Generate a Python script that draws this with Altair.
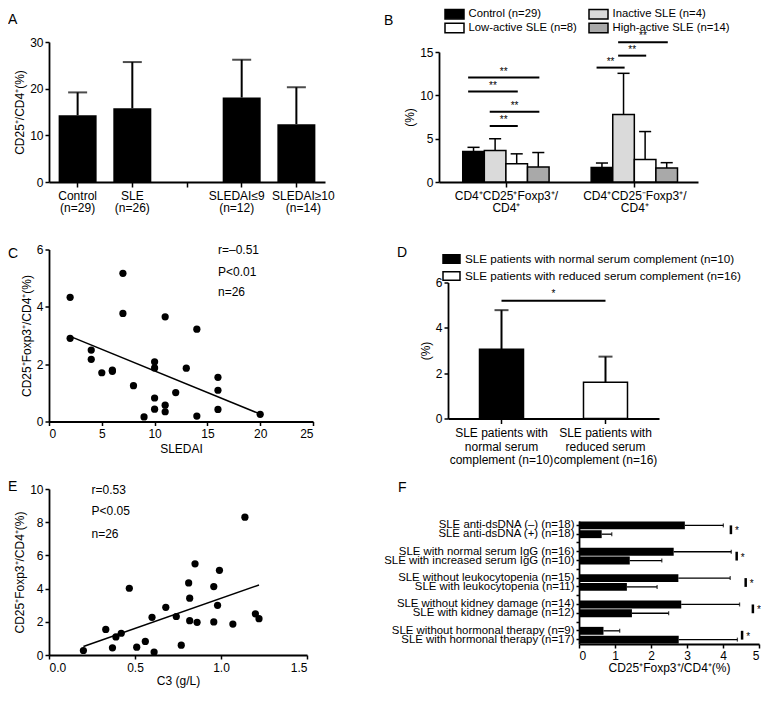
import json
import altair as alt
import pandas as pd

FONT = "Liberation Sans"
RECT_B = "M-1.9,-0.95H1.9V0.95H-1.9Z"
RECT_D = "M-1,-0.5H1V0.5H-1Z"

# ---------------- Panel A data ----------------
a_groups = ["Control\n(n=29)", "SLE\n(n=26)", "SLEDAI≤9\n(n=12)", "SLEDAI≥10\n(n=14)"]
a_mean = [14.3, 15.8, 18.1, 12.4]
a_upper = [19.2, 25.7, 26.2, 20.3]

# ---------------- Panel B data ----------------
b_groups = [["CD4⁺CD25⁺Foxp3⁺/", "CD4⁺"], ["CD4⁺CD25⁻Foxp3⁺/", "CD4⁺"]]
b_series = ["Control (n=29)", "Inactive SLE (n=4)", "Low-active SLE (n=8)", "High-active SLE (n=14)"]
b_fill = ["#000000", "#dadada", "#ffffff", "#a9a9a9"]
b_mean = [[3.51, 3.63, 2.12, 1.74], [1.66, 7.78, 2.61, 1.62]]
b_upper = [[4.00, 4.99, 3.25, 3.40], [2.19, 12.54, 5.82, 2.23]]
b_sig_group = [0, 0, 0, 0, 1, 1, 1]
b_sig_from = [0, 0, 1, 1, 0, 1, 1]
b_sig_to = [3, 2, 3, 2, 1, 2, 3]
b_sig_y = [12.05, 10.43, 8.12, 6.46, 13.2, 14.58, 16.13]

# ---------------- Panel C data ----------------
c_sledai = [2, 2, 4, 4, 5, 6, 6, 7, 7, 8, 9, 10, 10, 10, 10, 11, 11, 11, 12, 13, 14, 14, 16, 16, 16, 20]
c_treg = [4.33, 2.90, 2.49, 2.17, 1.70, 1.79, 1.75, 5.17, 3.77, 1.25, 0.16, 2.08, 1.87, 0.82, 0.43,
          3.65, 0.57, 0.34, 1.01, 1.86, 3.22, 0.19, 1.54, 1.09, 0.42, 0.25]
c_stats = ["r=–0.51", "P<0.01", "n=26"]

# ---------------- Panel D data ----------------
d_groups = ["SLE patients with\nnormal serum\ncomplement (n=10)", "SLE patients with\nreduced serum\ncomplement (n=16)"]
d_legend = ["SLE patients with normal serum complement (n=10)", "SLE patients with reduced serum complement (n=16)"]
d_mean = [3.05, 1.60]
d_upper = [4.78, 2.73]
d_sig_y = 5.19

# ---------------- Panel E data ----------------
e_c3 = [0.200, 0.330, 0.369, 0.389, 0.420, 0.467, 0.510, 0.560, 0.599, 0.611, 0.679, 0.740, 0.769,
        0.812, 0.818, 0.818, 0.861, 0.849, 0.958, 0.958, 0.980, 0.991, 1.069, 1.139, 1.200, 1.221]
e_treg = [0.27, 1.54, 0.43, 1.09, 1.31, 4.02, 0.47, 0.82, 2.27, 0.18, 2.87, 2.32, 0.59,
          4.34, 3.42, 2.07, 1.97, 5.49, 4.12, 1.99, 2.99, 5.10, 1.86, 8.30, 2.48, 2.19]
e_stats = ["r=0.53", "P<0.05", "n=26"]

# ---------------- Panel F data ----------------
f_labels = ["SLE anti-dsDNA (–) (n=18)", "SLE anti-dsDNA (+) (n=18)",
            "SLE with normal serum IgG (n=16)", "SLE with increased serum IgG (n=10)",
            "SLE without leukocytopenia (n=15)", "SLE with leukocytopenia (n=11)",
            "SLE without kidney damage (n=14)", "SLE with kidney damage (n=12)",
            "SLE without hormonal therapy (n=9)", "SLE with hormonal therapy (n=17)"]
f_mean = [2.94, 0.63, 2.63, 1.41, 2.76, 1.33, 2.84, 1.47, 0.68, 2.77]
f_upper = [4.01, 0.91, 4.23, 2.30, 4.20, 2.17, 4.46, 2.49, 1.13, 4.40]
f_sig_x = [4.22, 4.38, 4.63, 4.83, 4.53]


def letter(ch, x, y):
    return alt.Chart(pd.DataFrame({"t": [ch]})).mark_text(
        font=FONT, fontSize=14, align="left", baseline="alphabetic", color="black"
    ).encode(x=alt.value(x), y=alt.value(y), text="t:N")


def notes(df, xf, yf):
    return alt.Chart(df).mark_text(font=FONT, fontSize=12, align="left", baseline="middle",
                                   color="black").encode(x=xf("nx"), y=yf("ny"), text="t:N")


SPLIT = "split(datum.label, '\\n')"

# ================= Panel A =================
dfA = pd.DataFrame({"group": a_groups, "mean": a_mean, "upper": a_upper})
a_slots = [a_groups[0], a_groups[1], " ", a_groups[2], a_groups[3]]
a_label_offset = {"condition": [{"test": "indexof(datum.value, '≥') >= 0", "value": 7},
                                {"test": "indexof(datum.value, '≤') >= 0", "value": -5}],
                  "value": 0}
xA = alt.X("group:N", scale=alt.Scale(domain=a_slots, paddingInner=0.293, paddingOuter=0.17),
           axis=alt.Axis(title=None, labelAngle=0, labelExpr=SPLIT, labelLineHeight=12,
                         labelPadding=3, tickSize=5, labelOffset=a_label_offset))


def yA(f):
    return alt.Y(f"{f}:Q", scale=alt.Scale(domain=[0, 30], nice=False),
                 axis=alt.Axis(values=[0, 10, 20, 30], title="CD25⁺/CD4⁺(%)", labelPadding=2))


pA = alt.layer(
    alt.Chart(dfA).mark_bar(color="black", size=38).encode(x=xA, y=yA("mean")),
    alt.Chart(dfA).mark_rule(color="black", strokeWidth=2).encode(x=xA, y=yA("mean"), y2=alt.Y2("upper")),
    alt.Chart(dfA).mark_tick(color="black", size=19, thickness=2).encode(x=xA, y=yA("upper")),
    letter("A", -41, -18),
).properties(width=276, height=140)

# ================= Panel B =================
B_CENTERS = [3.1, 9.05]
rows = []
for g in range(2):
    for i, s in enumerate(b_series):
        c = B_CENTERS[g] + i - 1.5
        rows.append({"series": s, "mean": b_mean[g][i], "upper": b_upper[g][i],
                     "x0": c - 0.5, "x1": c + 0.5, "xc": c, "cl": c - 0.28, "cr": c + 0.28})
dfB = pd.DataFrame(rows)
srows = []
for g, a, b, y in zip(b_sig_group, b_sig_from, b_sig_to, b_sig_y):
    x0 = B_CENTERS[g] + a - 1.5 - 0.25
    x1 = B_CENTERS[g] + b - 1.5 + 0.05
    srows.append({"sx0": x0, "sx1": x1, "sxm": (x0 + x1) / 2, "sy": y})
dfBs = pd.DataFrame(srows)

b_label_expr = "datum.value < 6 ? %s : %s" % (json.dumps(b_groups[0], ensure_ascii=False),
                                              json.dumps(b_groups[1], ensure_ascii=False))


def xB(f):
    return alt.X(f"{f}:Q", scale=alt.Scale(domain=[0, 12], nice=False, zero=False),
                 axis=alt.Axis(values=B_CENTERS, labelExpr=b_label_expr, title=None,
                               labelLineHeight=12, labelPadding=3, tickSize=5))


def yB(f):
    return alt.Y(f"{f}:Q", scale=alt.Scale(domain=[0, 15], nice=False, range=[140, 10]),
                 axis=alt.Axis(values=[0, 5, 10, 15], title="(%)", labelPadding=2))


legB = alt.Legend(orient="none", legendX=9.5, legendY=-34, columns=2, direction="horizontal", title=None,
                  symbolType=RECT_B, symbolSize=100, symbolStrokeColor="black", symbolStrokeWidth=1.5,
                  symbolOpacity=1, labelFont=FONT, labelFontSize=11.3, labelColor="black",
                  columnPadding=8, rowPadding=-2, labelOffset=8, labelLimit=300)

pB = alt.layer(
    alt.Chart(dfB).mark_rect(stroke="black", strokeWidth=1.5).encode(
        x=xB("x0"), x2=alt.X2("x1"), y=yB("mean"), y2=alt.Y2(datum=0),
        fill=alt.Fill("series:N", scale=alt.Scale(domain=b_series, range=b_fill), legend=legB)),
    alt.Chart(dfB).mark_rule(color="black", strokeWidth=1.5).encode(x=xB("xc"), y=yB("mean"), y2=alt.Y2("upper")),
    alt.Chart(dfB).mark_rule(color="black", strokeWidth=1.5).encode(x=xB("cl"), x2=alt.X2("cr"), y=yB("upper")),
    alt.Chart(dfBs).mark_rule(color="black", strokeWidth=2).encode(x=xB("sx0"), x2=alt.X2("sx1"), y=yB("sy")),
    alt.Chart(dfBs).mark_text(text="**", font=FONT, fontSize=10, dy=-3, baseline="alphabetic",
                              color="black").encode(x=xB("sxm"), y=yB("sy")),
    letter("B", -55, -17),
).properties(width=259, height=140)

# ================= Panel C =================
dfC = pd.DataFrame({"x": c_sledai, "y": c_treg})
dfCn = pd.DataFrame({"t": c_stats, "nx": [16, 16, 16], "ny": [6.0, 5.23, 4.51]})


def xC(f):
    return alt.X(f"{f}:Q", scale=alt.Scale(domain=[0, 25], nice=False),
                 axis=alt.Axis(values=[0, 5, 10, 15, 20, 25], title="SLEDAI", labelPadding=3, titlePadding=4))


def yC(f):
    return alt.Y(f"{f}:Q", scale=alt.Scale(domain=[0, 6], nice=False),
                 axis=alt.Axis(values=[0, 2, 4, 6], title="CD25⁺Foxp3⁺/CD4⁺(%)", labelPadding=2))


pC = alt.layer(
    alt.Chart(dfC).mark_circle(color="black", size=52, opacity=1).encode(x=xC("x"), y=yC("y")),
    alt.Chart(dfC).transform_regression("x", "y").mark_line(color="black", strokeWidth=1.5).encode(
        x=xC("x"), y=yC("y")),
    notes(dfCn, xC, yC),
    letter("C", -41, 8),
).properties(width=264, height=172)

# ================= Panel D =================
dfD = pd.DataFrame({"group": d_groups, "legend": d_legend, "mean": d_mean, "upper": d_upper})
dfDs = pd.DataFrame({"a": [d_groups[0]], "b": [d_groups[1]], "y": [d_sig_y]})


def xD(f):
    return alt.X(f"{f}:N", scale=alt.Scale(domain=d_groups, range=[9, 220], paddingInner=0.577, paddingOuter=0.303),
                 axis=alt.Axis(title=None, labelAngle=0, labelExpr=SPLIT, labelLineHeight=13.5,
                               labelPadding=4, tickSize=5))


def yD(f):
    return alt.Y(f"{f}:Q", scale=alt.Scale(domain=[0, 6], nice=False, range=[169, 33]),
                 axis=alt.Axis(values=[0, 2, 4, 6], title="(%)", offset=-9, labelPadding=2))


legD = alt.Legend(orient="none", legendX=3, legendY=0, title=None, direction="vertical",
                  symbolType=RECT_D, symbolSize=289, symbolStrokeColor="black", symbolStrokeWidth=1.5,
                  symbolOpacity=1, labelFont=FONT, labelFontSize=11.7, labelColor="black",
                  rowPadding=-2, labelOffset=4, labelLimit=400)

pD = alt.layer(
    alt.Chart(dfD).mark_bar(size=44, stroke="black", strokeWidth=1.5).encode(
        x=xD("group"), y=yD("mean"),
        fill=alt.Fill("legend:N", scale=alt.Scale(domain=d_legend, range=["black", "white"]), legend=legD)),
    alt.Chart(dfD).mark_rule(color="black", strokeWidth=2).encode(x=xD("group"), y=yD("mean"), y2=alt.Y2("upper")),
    alt.Chart(dfD).mark_tick(color="black", size=14, thickness=2).encode(x=xD("group"), y=yD("upper")),
    alt.Chart(dfDs).mark_rule(color="black", strokeWidth=2).encode(x=xD("a"), x2=alt.X2("b"), y=yD("y")),
    alt.Chart(dfDs).mark_text(text="*", font=FONT, fontSize=10, dx=52, dy=-4, baseline="alphabetic",
                              color="black").encode(x=xD("a"), y=yD("y")),
    letter("D", -42, 7),
).properties(width=220, height=169)

# ================= Panel E =================
dfE = pd.DataFrame({"x": e_c3, "y": e_treg})
dfEn = pd.DataFrame({"t": e_stats, "nx": [0.247] * 3, "ny": [9.94, 8.65, 7.31]})


def xE(f):
    return alt.X(f"{f}:Q", scale=alt.Scale(domain=[0, 1.5], nice=False),
                 axis=alt.Axis(values=[0, 0.5, 1.0, 1.5], format=".1f", title="C3 (g/L)",
                               labelPadding=3, titlePadding=2))


def yE(f):
    return alt.Y(f"{f}:Q", scale=alt.Scale(domain=[0, 10], nice=False),
                 axis=alt.Axis(values=[0, 2, 4, 6, 8, 10], title="CD25⁺Foxp3⁺/CD4⁺(%)", labelPadding=2))


pE = alt.layer(
    alt.Chart(dfE).mark_circle(color="black", size=52, opacity=1).encode(x=xE("x"), y=yE("y")),
    alt.Chart(dfE).transform_regression("x", "y").mark_line(color="black", strokeWidth=1.5).encode(
        x=xE("x"), y=yE("y")),
    notes(dfEn, xE, yE),
    letter("E", -41, 2),
).properties(width=258, height=166)

# ================= Panel F =================
dfF = pd.DataFrame({"label": f_labels, "mean": f_mean, "upper": f_upper})
dfFs = pd.DataFrame({"x": f_sig_x, "ya": f_labels[0::2], "yb": f_labels[1::2]})
f_slots = []
for k in range(5):
    f_slots += [f_labels[2 * k], f_labels[2 * k + 1]]
    if k < 4:
        f_slots.append(" " * (k + 1))


def yF(f):
    return alt.Y(f"{f}:N", scale=alt.Scale(domain=f_slots, range=[32, 155], paddingInner=0.1, paddingOuter=0.05),
                 axis=alt.Axis(title=None, offset=-140, labelFontSize=11.4, labelPadding=2, tickSize=3,
                               labelLimit=300))


def xF(f):
    return alt.X(f"{f}:Q", scale=alt.Scale(domain=[0, 5], range=[140, 320], nice=False),
                 axis=alt.Axis(values=[0, 1, 2, 3, 4, 5], title="CD25⁺Foxp3⁺/CD4⁺(%)",
                               titlePadding=1, labelPadding=2))


pF = alt.layer(
    alt.Chart(dfF).mark_bar(color="black").encode(x=xF("mean"), y=yF("label")),
    alt.Chart(dfF).mark_rule(color="black", strokeWidth=1.3).encode(x=xF("mean"), x2=alt.X2("upper"), y=yF("label")),
    alt.Chart(dfF).mark_tick(color="black", size=4, thickness=1.3).encode(x=xF("upper"), y=yF("label")),
    alt.Chart(dfFs).mark_rule(color="black", strokeWidth=2.5).encode(x=xF("x"), y=yF("ya"), y2=alt.Y2("yb")),
    alt.Chart(dfFs).mark_text(text="*", font=FONT, fontSize=10, dx=6, baseline="alphabetic",
                              color="black").encode(x=xF("x"), y=yF("yb")),
    letter("F", -41, 3),
).properties(width=320, height=155)

chart = alt.concat(pA, pB, pC, pD, pE, pF, columns=2, spacing={"row": 67.5, "column": 114},
                   bounds="flush", align="each").resolve_scale(
    fill="independent"
).resolve_legend(fill="independent").properties(
    padding={"left": 0, "top": 0, "right": 0, "bottom": 10}
).configure_view(stroke=None).configure_axis(
    domainColor="black", domainWidth=1.8, tickColor="black", tickWidth=1.5, tickSize=4,
    labelFont=FONT, labelFontSize=12, labelColor="black", titleFont=FONT, titleFontSize=12,
    titleFontWeight="normal", titleColor="black", grid=False, titlePadding=3
)

chart.save("out.html", embed_options={"renderer": "svg", "actions": False})
